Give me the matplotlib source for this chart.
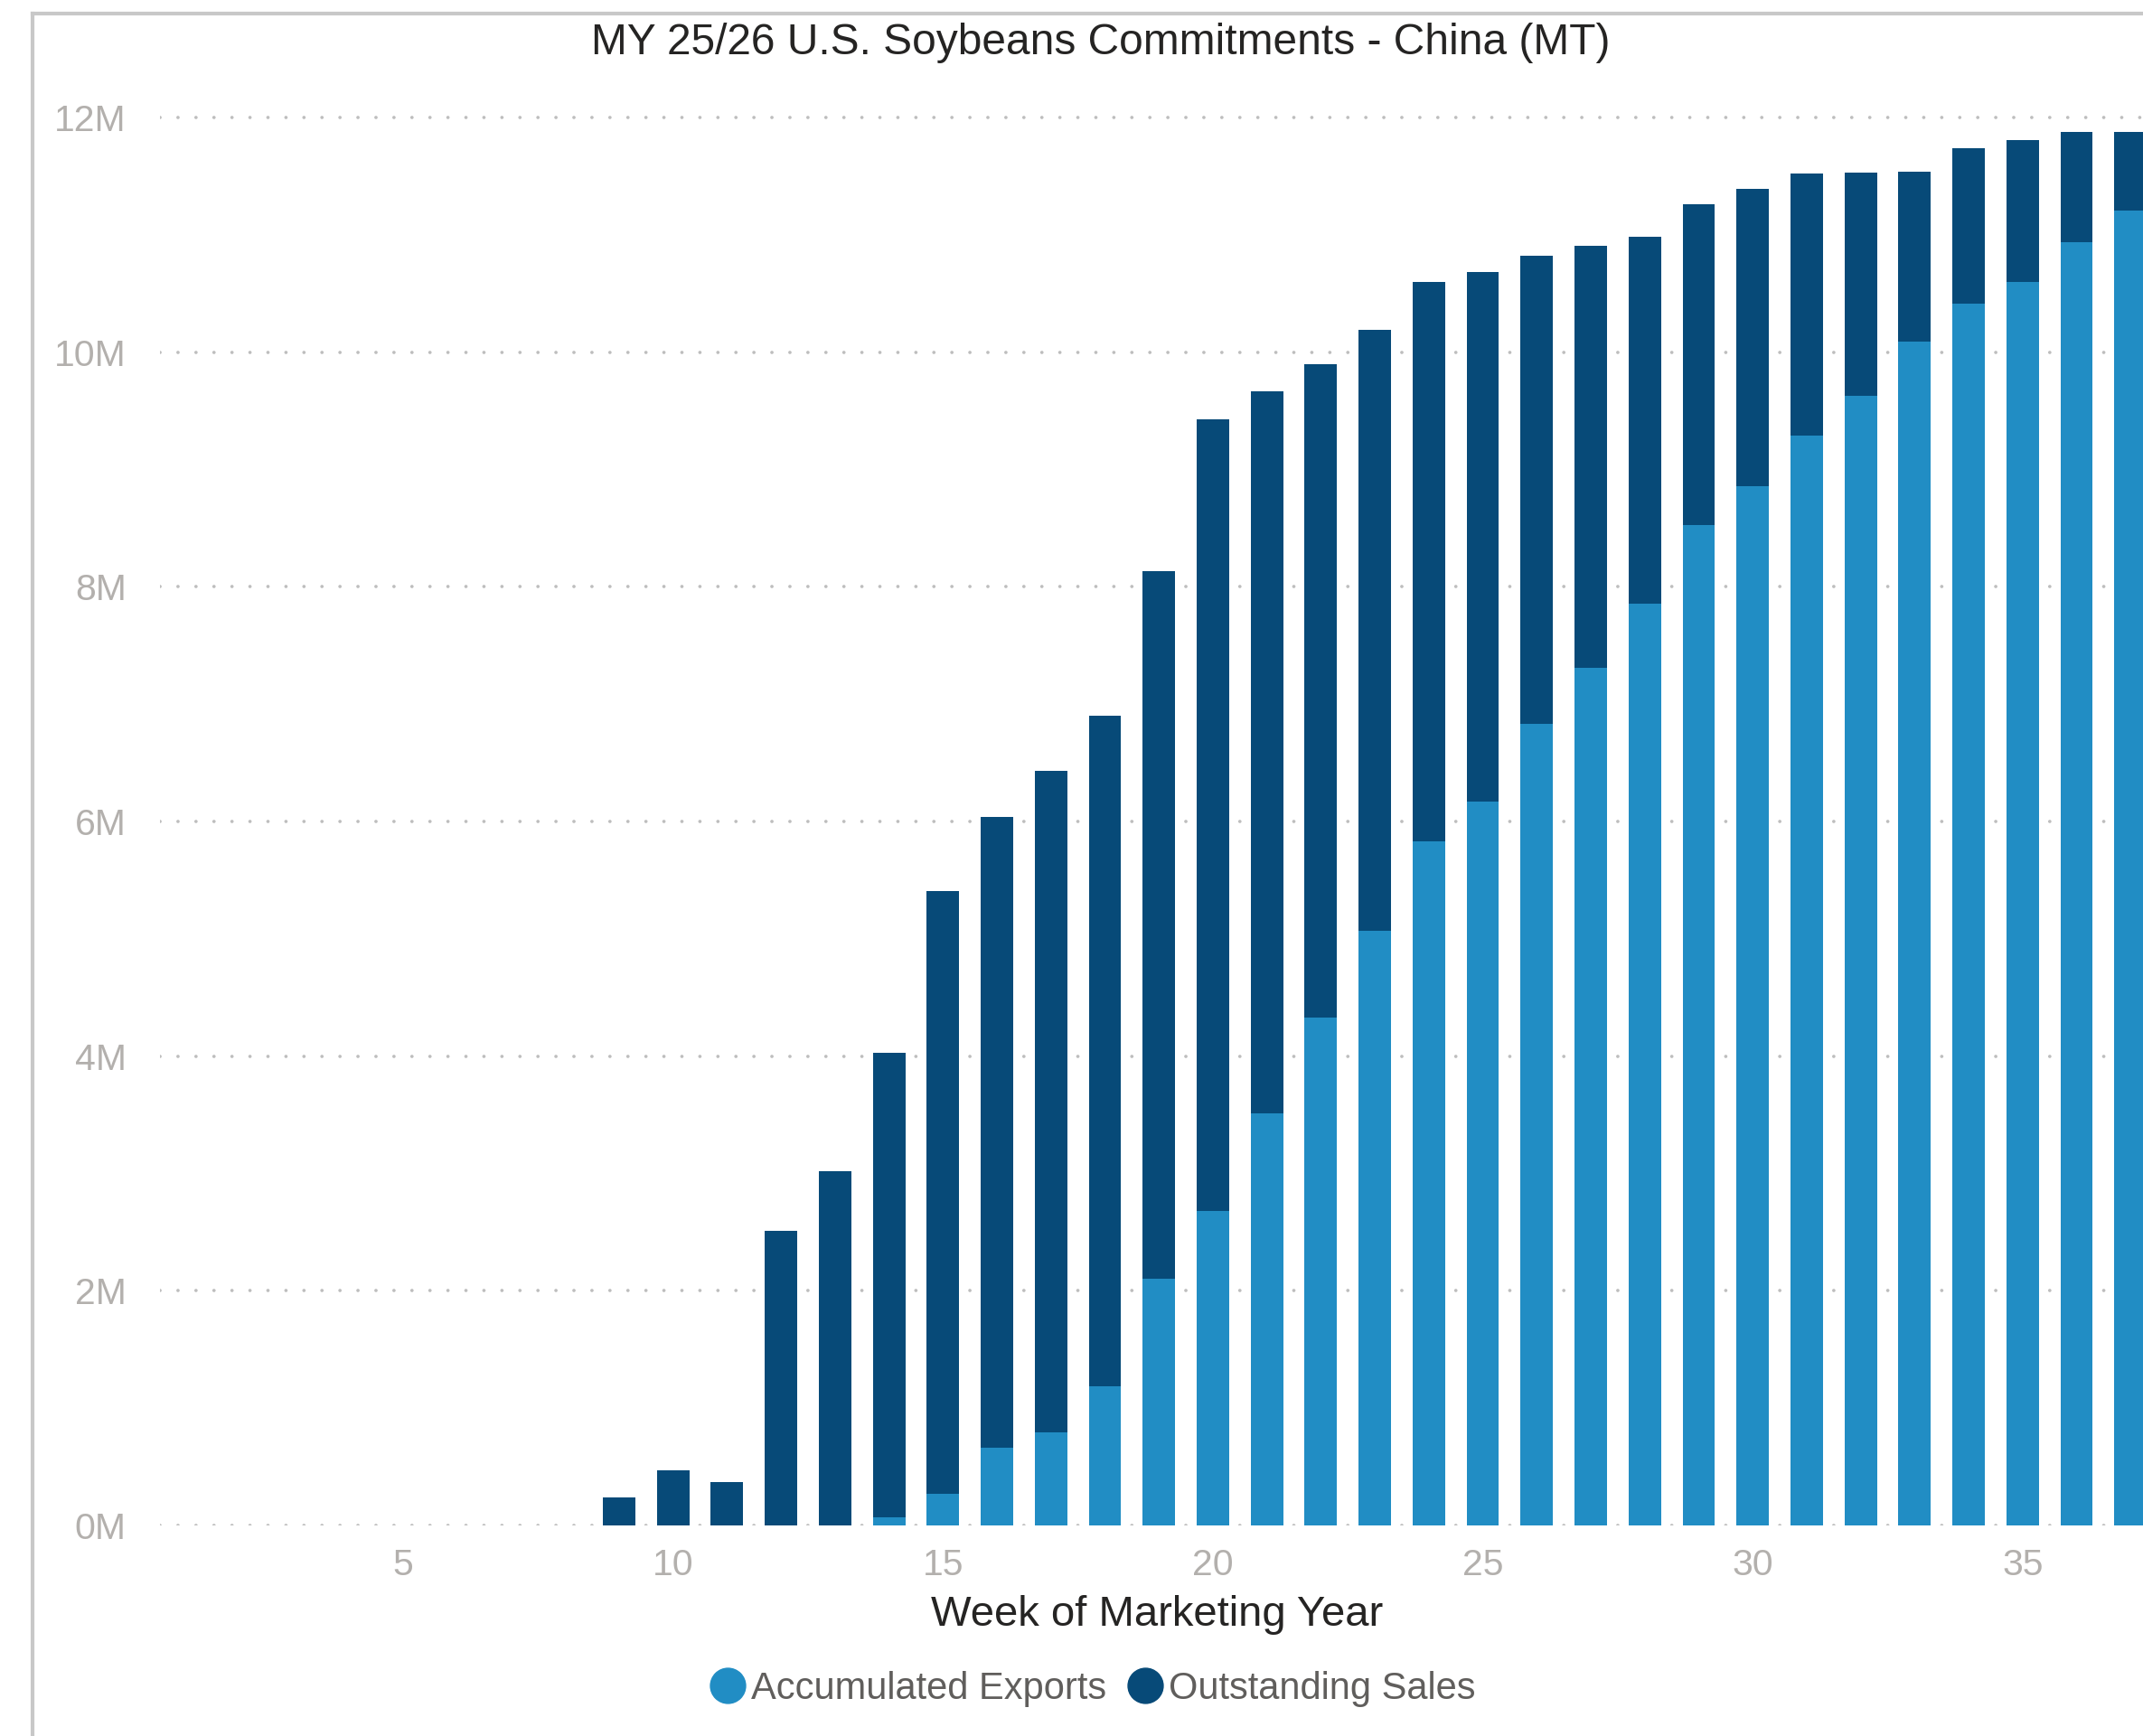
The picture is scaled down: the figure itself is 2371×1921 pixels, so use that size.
import numpy as np
import matplotlib
matplotlib.use("Agg")
import matplotlib.pyplot as plt
from matplotlib.lines import Line2D

plt.rcParams['font.family'] = ['Liberation Sans', 'DejaVu Sans']

# week of marketing year and values in million metric tons
weeks = list(range(9, 38))
exported = [0, 0, 0, 0, 0, 0.07, 0.27, 0.66, 0.79, 1.19,
            2.10, 2.68, 3.51, 4.33, 5.07, 5.83, 6.17, 6.83, 7.31, 7.86,
            8.53, 8.86, 9.29, 9.63, 10.09, 10.41, 10.60, 10.94, 11.21]
outstanding = [0.24, 0.47, 0.37, 2.51, 3.02, 3.96, 5.14, 5.38, 5.64, 5.71,
               6.03, 6.75, 6.16, 5.57, 5.12, 4.77, 4.51, 3.99, 3.60, 3.12,
               2.73, 2.53, 2.23, 1.90, 1.45, 1.33, 1.21, 0.94, 0.67]
yticks = [0, 2, 4, 6, 8, 10, 12]
xticks = [5, 10, 15, 20, 25, 30, 35]

light = '#218DC4'
dark = '#074A78'
tick_grey = '#B3B0AD'
text_dark = '#252423'

W, H = 2371, 1921
fig = plt.figure(figsize=(W / 100, H / 100), dpi=100)
ax = fig.add_axes([177.3 / W, 1 - 1688 / H, 1 - 177.3 / W, (1688 - 91.1) / H])

exp = np.array(exported) * 1e6
outs = np.array(outstanding) * 1e6
ax.bar(weeks, exp, width=0.6, color=light, zorder=3)
ax.bar(weeks, outs, width=0.6, bottom=exp, color=dark, zorder=3)

ax.set_xlim(0.5, 37.23)
ax.set_ylim(0, 12.3e6)
ax.set_yticks([v * 1e6 for v in yticks])
ax.set_yticklabels([f'{v}M' for v in yticks])
ax.set_xticks(xticks)
ax.tick_params(axis='both', length=0, labelsize=29.5, labelcolor=tick_grey)
ax.tick_params(axis='y', pad=27)
ax.tick_params(axis='x', pad=18)

for s in ax.spines.values():
    s.set_visible(False)
# dotted horizontal gridlines
ax.grid(axis='y', color='#BEBEBE', linewidth=2.7,
        linestyle=(0, (0.01, 5.3)), dash_capstyle='round', zorder=0)
ax.grid(axis='x', visible=False)
ax.set_axisbelow(True)

ax.set_xlabel('Week of Marketing Year', fontsize=34, color=text_dark, va='center')
ax.xaxis.set_label_coords((1280 - 177.3) / (W - 177.3), (1688 - 1787) / (1688 - 91.1))

fig.text(1218 / W, 1 - 47 / H, 'MY 25/26 U.S. Soybeans Commitments - China (MT)',
         fontsize=34.5, color=text_dark, ha='center', va='center')

handles = [Line2D([], [], marker='o', linestyle='none', markersize=28,
                  markerfacecolor=light, markeredgecolor=light),
           Line2D([], [], marker='o', linestyle='none', markersize=28,
                  markerfacecolor=dark, markeredgecolor=dark)]
fig.legend(handles, ['Accumulated Exports', 'Outstanding Sales'], ncol=2,
           loc='center', bbox_to_anchor=(1209 / W, 1 - 1869 / H), frameon=False,
           fontsize=30, labelcolor='#605E5C', handlelength=0.95,
           handletextpad=0.15, columnspacing=0.55, borderpad=0)

# light frame at the top and left of the visual
fig.add_artist(Line2D([36 / W, 36 / W], [0, 1 - 15 / H], color='#C8C8C8',
                      linewidth=3, transform=fig.transFigure))
fig.add_artist(Line2D([36 / W, 1], [1 - 15 / H, 1 - 15 / H], color='#C8C8C8',
                      linewidth=3, transform=fig.transFigure))

fig.savefig('out.png', dpi=100)
